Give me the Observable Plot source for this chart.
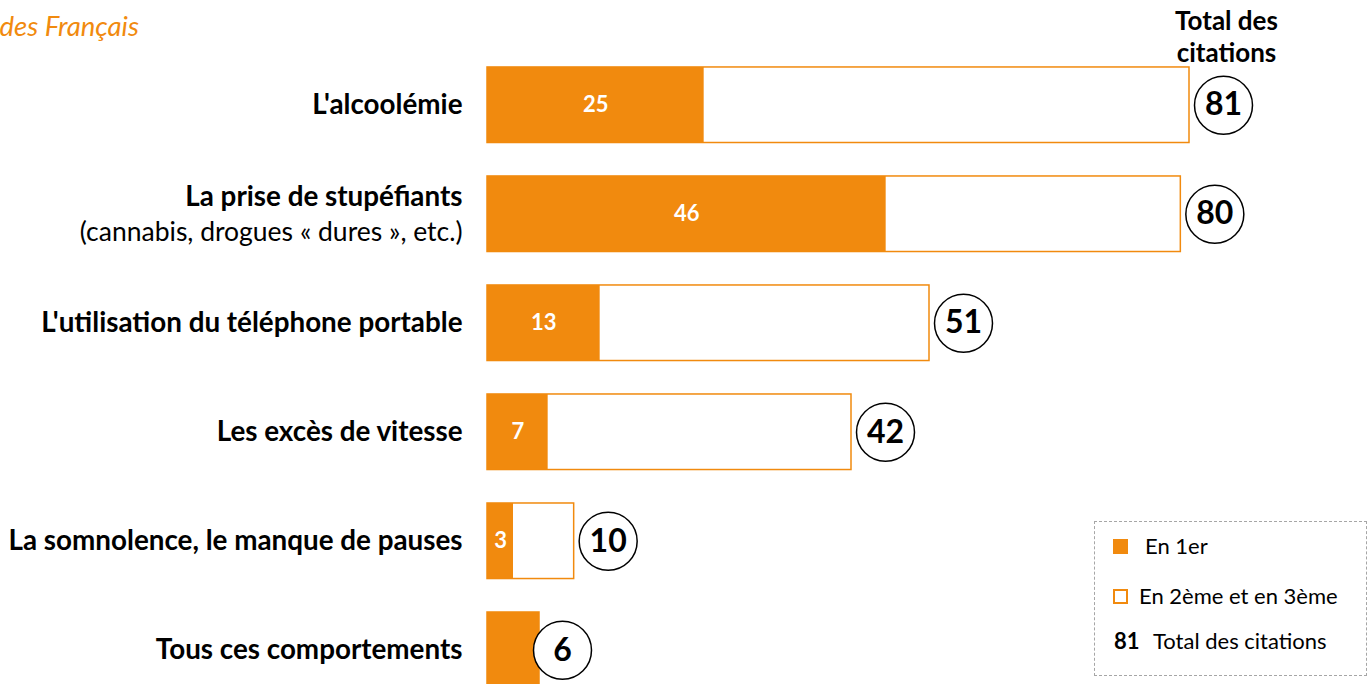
<!DOCTYPE html>
<html>
<head>
<meta charset="utf-8">
<script src="https://cdn.jsdelivr.net/npm/d3@7"></script>
<script src="https://cdn.jsdelivr.net/npm/@observablehq/plot@0.6"></script>
<style>
  html, body { margin: 0; padding: 0; background: #fff; }
  body { width: 1369px; height: 684px; overflow: hidden; position: relative; font-family: Lato, "Open Sans", sans-serif; }
  #chart { position: absolute; left: 0; top: 0; }
  #legend { position: absolute; left: 1094px; top: 521px; width: 273px; height: 155px; border: 1.5px dashed #a6a6a6; box-sizing: border-box; font-size: 22px; color: #000; }
  .sw { position: absolute; width: 15px; height: 15px; box-sizing: border-box; }
  .lt { position: absolute; white-space: nowrap; line-height: 24px; }
</style>
</head>
<body>
<div id="chart"></div>
<div id="legend">
  <span class="sw" style="left:18px; top:17px; background:#f18a0e"></span>
  <span class="lt" style="left:50px; top:12px">En 1er</span>
  <span class="sw" style="left:18px; top:67px; border:2px solid #f18a0e; background:#fff"></span>
  <span class="lt" style="left:44px; top:62px">En 2ème et en 3ème</span>
  <span class="lt" style="left:19px; top:107px"><b>81</b></span>
  <span class="lt" style="left:58px; top:107px">Total des citations</span>
</div>
<script>
const titleText = "des Français";
const totalHeader = "Total des\ncitations";
const categories = [
  "L'alcoolémie",
  "La prise de stupéfiants",
  "L'utilisation du téléphone portable",
  "Les excès de vitesse",
  "La somnolence, le manque de pauses",
  "Tous ces comportements"
];
const subLabels = ["", "(cannabis, drogues « dures », etc.)", "", "", "", ""];
const firstRank = [25, 46, 13, 7, 3, 6];
const totalCitations = [81, 80, 51, 42, 10, 6];

const ORANGE = "#f18a0e";
const rows = categories.map((c, i) => ({
  cat: c, sub: subLabels[i], first: firstRank[i], total: totalCitations[i]
}));
const split = rows.filter(d => d.first < d.total);
const full = rows.filter(d => d.first >= d.total);
const withSub = rows.filter(d => d.sub);
const noSub = rows.filter(d => !d.sub);

const chart = Plot.plot({
  width: 1369,
  height: 684,
  margin: 0,
  style: { fontFamily: "Lato, 'Open Sans', sans-serif", overflow: "visible" },
  x: { domain: [0, 81], range: [487, 1189], axis: null },
  y: { domain: categories, range: [33.5, 721], padding: 0.307, round: false, axis: null },
  marks: [
    Plot.barX(rows, { y: "cat", x1: 0, x2: "total", fill: "white", stroke: ORANGE, strokeWidth: 1.5 }),
    Plot.barX(rows, { y: "cat", x1: 0, x2: "first", fill: ORANGE }),
    Plot.text(split, {
      y: "cat", x: d => d.first / 2, text: d => String(d.first),
      fill: "white", fontWeight: "bold", fontSize: 22
    }),
    Plot.text(noSub, {
      y: "cat", x: 0, dx: -25, text: "cat",
      textAnchor: "end", fontWeight: "bold", fontSize: 27.8, fill: "#000"
    }),
    Plot.text(withSub, {
      y: "cat", x: 0, dx: -25, dy: -17, text: "cat",
      textAnchor: "end", fontWeight: "bold", fontSize: 27.8, fill: "#000"
    }),
    Plot.text(withSub, {
      y: "cat", x: 0, dx: -25, dy: 18, text: "sub",
      textAnchor: "end", fontSize: 26.5, fill: "#000"
    }),
    Plot.dot(split, {
      y: "cat", x: "total", dx: 34,
      r: 29, fill: "white", stroke: "#000", strokeWidth: 1.5
    }),
    Plot.text(split, {
      y: "cat", x: "total", dx: 34, text: d => String(d.total),
      fontWeight: "bold", fontSize: 32, fill: "#000"
    }),
    Plot.dot(full, {
      y: "cat", x: "total", dx: 23,
      r: 29, fill: "white", stroke: "#000", strokeWidth: 1.5
    }),
    Plot.text(full, {
      y: "cat", x: "total", dx: 23, text: d => String(d.total),
      fontWeight: "bold", fontSize: 32, fill: "#000"
    }),
    Plot.text([totalHeader], {
      y: () => categories[0], x: () => 81, dx: 37, dy: -69, text: d => d,
      fontWeight: "bold", fontSize: 26, lineHeight: 1.23, fill: "#000"
    }),
    Plot.text([titleText], {
      frameAnchor: "top-left", dx: -1, dy: 27, lineAnchor: "middle", text: d => d,
      fontStyle: "italic", fontSize: 27.5, fill: ORANGE, textAnchor: "start"
    })
  ]
});
document.getElementById("chart").appendChild(chart);
</script>
</body>
</html>
